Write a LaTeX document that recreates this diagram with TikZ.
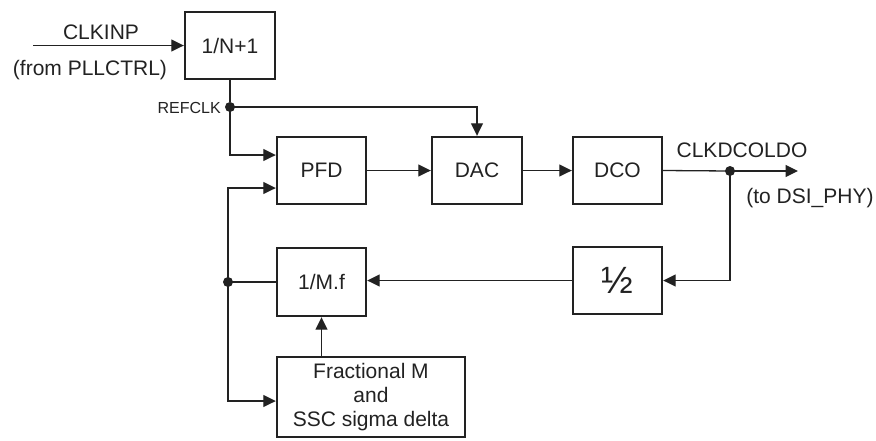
\documentclass[tikz,border=0pt]{standalone}
\usepackage{fontspec}
\setmainfont{Liberation Sans}
\usetikzlibrary{arrows.meta,calc}
\definecolor{ink}{HTML}{222222}
\tikzset{
  blk/.style={draw=ink,line width=2.4pt,minimum width=89pt,minimum height=67pt,inner sep=0pt,font=\fontsize{21}{24}\selectfont,text=ink,align=center},
  wire/.style={draw=ink,line width=1.3pt},
  arr/.style={wire,-{Triangle[length=12.5pt,width=12pt]}},
  lbl/.style={inner sep=0pt,font=\fontsize{21}{24}\selectfont,text=ink},
  dot/.style={circle,fill=ink,inner sep=0pt,minimum size=10pt}
}
\begin{document}
\begin{tikzpicture}[x=1pt,y=-1pt]
\useasboundingbox (0,0) rectangle (876,440);
% blocks
\node[blk,minimum width=90pt] (nb) at (230,45.5) {1/N+1};
\node[blk] (pfd) at (321.5,170.5) {PFD};
\node[blk,minimum width=90pt] (dac) at (477,170.5) {DAC};
\node[blk] (dco) at (617.5,170.5) {DCO};
\node[blk] (half) at (617.5,280.5) {\fontsize{38}{38}\selectfont ½};
\node[blk,minimum height=68pt] (mf) at (321.5,282) {1/M.f};
\node[blk,minimum width=188pt,minimum height=80pt] (frac) at (371,397) {Fractional M\\and\\SSC sigma delta};
% points
\coordinate (in) at (33,45.5);
\node[dot] (ref) at (230,107) {};
\node[dot] (out) at (730,171) {};
\coordinate (outend) at (798,171);
\node[dot] (fb) at (228,282) {};
% labels
\node[lbl,anchor=base] (lclk) at (101,39) {CLKINP};
\node[lbl,anchor=base] (lfrom) at (90,75) {(from PLLCTRL)};
\node[lbl,anchor=base east,font=\fontsize{16}{18}\selectfont] (lref) at (221,113) {REFCLK};
\node[lbl,anchor=base] (lout) at (742,157) {CLKDCOLDO};
\node[lbl,anchor=base] (lto) at (810,203) {(to DSI\_PHY)};
% connectors
\draw[arr] (in) -- (nb.west);
\draw[wire] (nb.south) -- (ref);
\draw[arr] (ref.center) -| (dac.north);
\draw[arr] (ref.center) |- ([yshift=15.5pt]pfd.west);
\draw[arr] (fb.center) |- ([yshift=-17.5pt]pfd.west);
\draw[arr] (pfd) -- (dac);
\draw[arr] (dac) -- (dco);
\draw[wire] (dco.east) -- (out.center);
\draw[arr] (out.center) -- (outend);
\draw[arr] (out.center) |- (half.east);
\draw[arr] (half.west) -- (half.west -| mf.east);
\draw[wire] (mf.west) -- (fb.center);
\draw[arr] (fb.center) |- ([yshift=-4pt]frac.west);
\draw[arr] (frac.north -| mf.south) -- (mf.south);
\end{tikzpicture}
\end{document}
